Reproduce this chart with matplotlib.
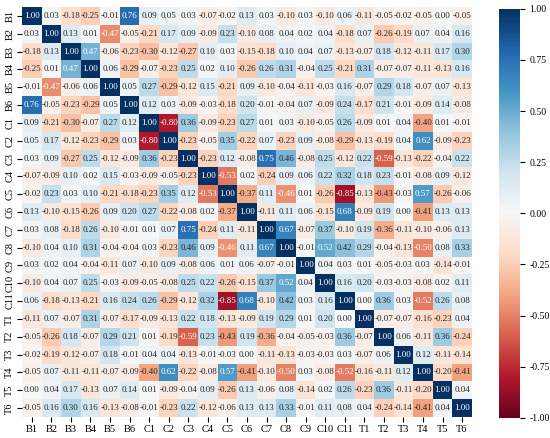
import matplotlib
matplotlib.use("Agg")
import matplotlib.pyplot as plt
import numpy as np
import seaborn as sns

plt.rcParams['font.family'] = ['Liberation Serif', 'DejaVu Serif']

labels = ['B1', 'B2', 'B3', 'B4', 'B5', 'B6',
          'C1', 'C2', 'C3', 'C4', 'C5', 'C6', 'C7', 'C8', 'C9', 'C10', 'C11',
          'T1', 'T2', 'T3', 'T4', 'T5', 'T6']

# correlation matrix, one row per variable
corr = [
    [1.00, 0.03, -0.18, -0.25, -0.01, 0.76, 0.09, 0.05, 0.03, -0.07, -0.02, 0.13, 0.03, -0.10, 0.03, -0.10, 0.06, -0.11, -0.05, -0.02, -0.05, 0.00, -0.05],
    [0.03, 1.00, 0.13, 0.01, -0.47, -0.05, -0.21, 0.17, 0.09, -0.09, 0.23, -0.10, 0.08, 0.04, 0.02, 0.04, -0.18, 0.07, -0.26, -0.19, 0.07, 0.04, 0.16],
    [-0.18, 0.13, 1.00, 0.47, -0.06, -0.23, -0.30, -0.12, -0.27, 0.10, 0.03, -0.15, -0.18, 0.10, 0.04, 0.07, -0.13, -0.07, 0.18, -0.12, -0.11, 0.17, 0.30],
    [-0.25, 0.01, 0.47, 1.00, 0.06, -0.29, -0.07, -0.23, 0.25, 0.02, 0.10, -0.26, 0.26, 0.31, -0.04, 0.25, -0.21, 0.31, -0.07, -0.07, -0.11, -0.13, 0.16],
    [-0.01, -0.47, -0.06, 0.06, 1.00, 0.05, 0.27, -0.29, -0.12, 0.15, -0.21, 0.09, -0.10, -0.04, -0.11, -0.03, 0.16, -0.07, 0.29, 0.18, -0.07, 0.07, -0.13],
    [0.76, -0.05, -0.23, -0.29, 0.05, 1.00, 0.12, 0.03, -0.09, -0.03, -0.18, 0.20, -0.01, -0.04, 0.07, -0.09, 0.24, -0.17, 0.21, -0.01, -0.09, 0.14, -0.08],
    [0.09, -0.21, -0.30, -0.07, 0.27, 0.12, 1.00, -0.80, 0.36, -0.09, -0.23, 0.27, 0.01, 0.03, -0.10, -0.05, 0.26, -0.09, 0.01, 0.04, -0.40, 0.01, -0.01],
    [0.05, 0.17, -0.12, -0.23, -0.29, 0.03, -0.80, 1.00, -0.23, -0.05, 0.35, -0.22, 0.07, -0.23, 0.09, -0.08, -0.29, -0.13, -0.19, 0.04, 0.62, -0.09, -0.23],
    [0.03, 0.09, -0.27, 0.25, -0.12, -0.09, 0.36, -0.23, 1.00, -0.23, 0.12, -0.08, 0.75, 0.46, -0.08, 0.25, -0.12, 0.22, -0.59, -0.13, -0.22, -0.04, 0.22],
    [-0.07, -0.09, 0.10, 0.02, 0.15, -0.03, -0.09, -0.05, -0.23, 1.00, -0.53, 0.02, -0.24, 0.09, 0.06, 0.22, 0.32, 0.18, 0.23, -0.01, -0.08, 0.09, -0.12],
    [-0.02, 0.23, 0.03, 0.10, -0.21, -0.18, -0.23, 0.35, 0.12, -0.53, 1.00, -0.37, 0.11, -0.46, 0.01, -0.26, -0.85, -0.13, -0.43, -0.03, 0.57, -0.26, -0.06],
    [0.13, -0.10, -0.15, -0.26, 0.09, 0.20, 0.27, -0.22, -0.08, 0.02, -0.37, 1.00, -0.11, 0.11, 0.06, -0.15, 0.68, -0.09, 0.19, 0.00, -0.41, 0.13, 0.13],
    [0.03, 0.08, -0.18, 0.26, -0.10, -0.01, 0.01, 0.07, 0.75, -0.24, 0.11, -0.11, 1.00, 0.67, -0.07, 0.37, -0.10, 0.19, -0.36, -0.11, -0.10, -0.06, 0.13],
    [-0.10, 0.04, 0.10, 0.31, -0.04, -0.04, 0.03, -0.23, 0.46, 0.09, -0.46, 0.11, 0.67, 1.00, -0.01, 0.52, 0.42, 0.29, -0.04, -0.13, -0.50, 0.08, 0.33],
    [0.03, 0.02, 0.04, -0.04, -0.11, 0.07, -0.10, 0.09, -0.08, 0.06, 0.01, 0.06, -0.07, -0.01, 1.00, 0.04, 0.03, 0.01, -0.05, -0.03, 0.03, -0.14, -0.01],
    [-0.10, 0.04, 0.07, 0.25, -0.03, -0.09, -0.05, -0.08, 0.25, 0.22, -0.26, -0.15, 0.37, 0.52, 0.04, 1.00, 0.16, 0.20, -0.03, -0.03, -0.08, 0.02, 0.11],
    [0.06, -0.18, -0.13, -0.21, 0.16, 0.24, 0.26, -0.29, -0.12, 0.32, -0.85, 0.68, -0.10, 0.42, 0.03, 0.16, 1.00, 0.00, 0.36, 0.03, -0.52, 0.26, 0.08],
    [-0.11, 0.07, -0.07, 0.31, -0.07, -0.17, -0.09, -0.13, 0.22, 0.18, -0.13, -0.09, 0.19, 0.29, 0.01, 0.20, 0.00, 1.00, -0.07, -0.07, -0.16, -0.23, 0.04],
    [-0.05, -0.26, 0.18, -0.07, 0.29, 0.21, 0.01, -0.19, -0.59, 0.23, -0.43, 0.19, -0.36, -0.04, -0.05, -0.03, 0.36, -0.07, 1.00, 0.06, -0.11, 0.36, -0.24],
    [-0.02, -0.19, -0.12, -0.07, 0.18, -0.01, 0.04, 0.04, -0.13, -0.01, -0.03, 0.00, -0.11, -0.13, -0.03, -0.03, 0.03, -0.07, 0.06, 1.00, 0.12, -0.11, -0.14],
    [-0.05, 0.07, -0.11, -0.11, -0.07, -0.09, -0.40, 0.62, -0.22, -0.08, 0.57, -0.41, -0.10, -0.50, 0.03, -0.08, -0.52, -0.16, -0.11, 0.12, 1.00, -0.20, -0.41],
    [0.00, 0.04, 0.17, -0.13, 0.07, 0.14, 0.01, -0.09, -0.04, 0.09, -0.26, 0.13, -0.06, 0.08, -0.14, 0.02, 0.26, -0.23, 0.36, -0.11, -0.20, 1.00, 0.04],
    [-0.05, 0.16, 0.30, 0.16, -0.13, -0.08, -0.01, -0.23, 0.22, -0.12, -0.06, 0.13, 0.13, 0.33, -0.01, 0.11, 0.08, 0.04, -0.24, -0.14, -0.41, 0.04, 1.00],
]

data = np.array(corr)

fig = plt.figure(figsize=(5.5, 4.38), dpi=100)
ax = fig.add_axes([0.040, 0.048, 0.818, 0.936])
cax = fig.add_axes([0.907, 0.046, 0.038, 0.934])

sns.heatmap(data, ax=ax, cbar_ax=cax, cmap='RdBu', vmin=-1, vmax=1,
            annot=True, fmt='.2f', annot_kws={'size': 6.5},
            xticklabels=labels, yticklabels=labels,
            cbar_kws={'ticks': [-1, -0.75, -0.5, -0.25, 0, 0.25, 0.5, 0.75, 1],
                      'format': '%.2f'})

ax.tick_params(axis='x', labelsize=7.5, rotation=0, pad=2)
ax.tick_params(axis='y', labelsize=7.5, rotation=90, pad=2)
for t in ax.get_yticklabels():
    t.set_va('center')
cax.tick_params(labelsize=7)

fig.savefig('out.png', dpi=100)
